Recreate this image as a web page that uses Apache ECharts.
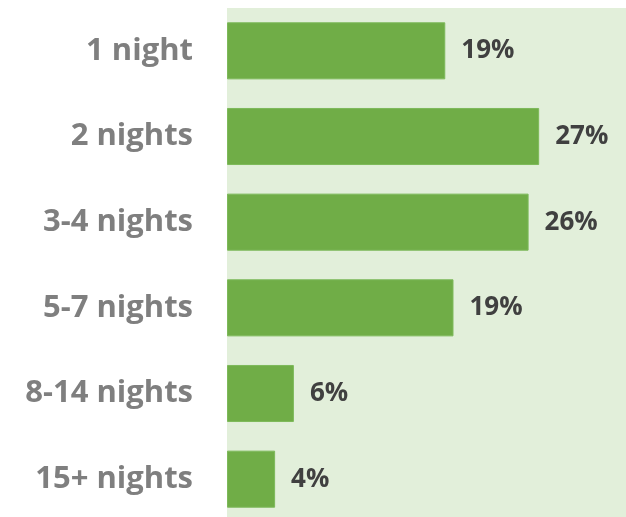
<!DOCTYPE html>
<html>
<head>
<meta charset="utf-8">
<script src="https://cdn.jsdelivr.net/npm/echarts@6/dist/echarts.min.js"></script>
<style>html,body{margin:0;padding:0;background:#fff;}#c{width:626px;height:517px;}</style>
</head>
<body>
<div id="c"></div>
<script>
const categories = ['1 night', '2 nights', '3-4 nights', '5-7 nights', '8-14 nights', '15+ nights'];
const shares = [18.6, 26.6, 25.7, 19.3, 5.7, 4.1];
const valueLabels = ['19%', '27%', '26%', '19%', '6%', '4%'];

const chart = echarts.init(document.getElementById('c'), null, {renderer: 'canvas'});
chart.setOption({
  animation: false,
  grid: {left: 227, top: 8, width: 399, height: 514, outerBoundsMode: 'none', show: true, backgroundColor: '#E2EFDA', borderWidth: 0, containLabel: false},
  xAxis: {type: 'value', min: 0, max: 34, show: false},
  yAxis: {
    type: 'category', data: categories, inverse: true,
    axisLine: {show: false}, axisTick: {show: false}, splitLine: {show: false},
    axisLabel: {margin: 34, fontFamily: 'Open Sans', fontWeight: 'bold', fontSize: 31, color: '#7F7F7F'}
  },
  series: [{
    type: 'bar', data: shares, barCategoryGap: '33.4%',
    itemStyle: {color: '#70AD47', borderColor: '#7DB95A', borderWidth: 1},
    label: {
      show: true, position: 'right', distance: 16,
      formatter: p => valueLabels[p.dataIndex],
      fontFamily: 'Open Sans', fontWeight: 'bold', fontSize: 26, color: '#404040'
    }
  }]
});
</script>
</body>
</html>
